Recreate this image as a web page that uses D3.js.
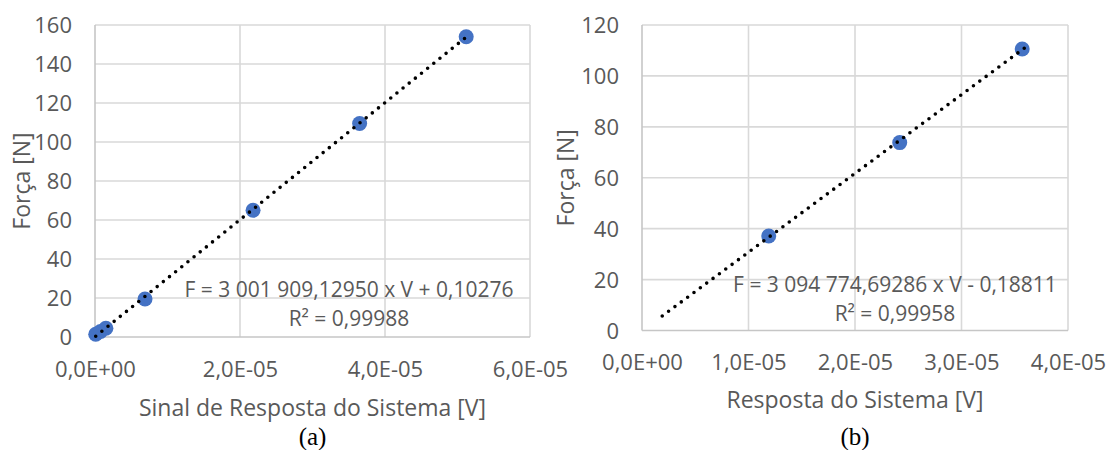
<!DOCTYPE html>
<html>
<head>
<meta charset="utf-8">
<script src="https://cdn.jsdelivr.net/npm/d3@7"></script>
<style>
  body { margin: 0; background: #fff; }
  svg text { font-family: "Open Sans", "Liberation Sans", sans-serif; fill: #595959; }
</style>
</head>
<body>
<script>
// chart (a): sinal de resposta vs força
var voltsA = [1.0e-7, 7.6e-7, 1.5e-6, 6.9e-6, 2.18e-5, 3.65e-5, 5.12e-5];
var forceA = [1.4, 2.8, 4.5, 19.5, 65, 109.5, 154];
var fitA = { slope: 3001909.12950, intercept: 0.10276, from: 1.0e-7, to: 5.12e-5 };
var eqA = ["F = 3 001 909,12950 x V + 0,10276", "R² = 0,99988"];
var xTicksA = [0, 2e-5, 4e-5, 6e-5];
var yTicksA = [0, 20, 40, 60, 80, 100, 120, 140, 160];

// chart (b): resposta do sistema vs força
var voltsB = [1.19e-5, 2.42e-5, 3.57e-5];
var forceB = [37.1, 73.8, 110.6];
var fitB = { slope: 3094774.69286, intercept: -0.18811, from: 1.9e-6, to: 3.64e-5 };
var eqB = ["F = 3 094 774,69286 x V - 0,18811", "R² = 0,99958"];
var xTicksB = [0, 1e-5, 2e-5, 3e-5, 4e-5];
var yTicksB = [0, 20, 40, 60, 80, 100, 120];

var width = 1108;
var height = 450;

var svg = d3.select("body").append("svg")
    .attr("width", width)
    .attr("height", height);

// 2e-5 -> "2,0E-05"
function sci(v) {
    if (v === 0) return "0,0E+00";
    var e = Math.floor(Math.log10(Math.abs(v)) + 1e-9);
    var m = v / Math.pow(10, e);
    return m.toFixed(1).replace(".", ",") + "E" + (e < 0 ? "-" : "+") + String(Math.abs(e)).padStart(2, "0");
}

function drawChart(c) {
    var x = d3.scaleLinear().domain(c.xDomain).range([c.left, c.right]);
    var y = d3.scaleLinear().domain(c.yDomain).range([c.bottom, c.top]);
    var g = svg.append("g");

    // gridlines
    g.selectAll(".hgrid").data(c.yTicks.slice(1))
        .enter().append("line")
        .attr("x1", c.left).attr("x2", c.right)
        .attr("y1", function (d) { return y(d); })
        .attr("y2", function (d) { return y(d); })
        .attr("stroke", "#d9d9d9").attr("stroke-width", 1.6);
    g.selectAll(".vgrid").data(c.xTicks.slice(1))
        .enter().append("line")
        .attr("y1", c.top).attr("y2", c.bottom)
        .attr("x1", function (d) { return x(d); })
        .attr("x2", function (d) { return x(d); })
        .attr("stroke", "#d9d9d9").attr("stroke-width", 1.6);

    // axis lines
    g.append("line").attr("x1", c.left).attr("x2", c.left).attr("y1", c.top).attr("y2", c.bottom)
        .attr("stroke", "#c6c6c6").attr("stroke-width", 1.6);
    g.append("line").attr("x1", c.left).attr("x2", c.right).attr("y1", c.bottom).attr("y2", c.bottom)
        .attr("stroke", "#c6c6c6").attr("stroke-width", 1.6);

    // tick labels via d3 axes
    var xAxis = g.append("g")
        .attr("transform", `translate(0 ${c.bottom})`)
        .call(d3.axisBottom(x).tickValues(c.xTicks).tickFormat(sci).tickSize(0));
    xAxis.select(".domain").remove();
    xAxis.selectAll("text")
        .attr("y", 32).attr("dy", "0.35em")
        .attr("font-size", 22).attr("font-family", null).style("fill", "#595959");

    var yAxis = g.append("g")
        .attr("transform", `translate(${c.left} 0)`)
        .call(d3.axisLeft(y).tickValues(c.yTicks).tickSize(0).tickPadding(23));
    yAxis.select(".domain").remove();
    yAxis.selectAll("text")
        .attr("dy", "0.35em")
        .attr("font-size", 22).attr("font-family", null).style("fill", "#595959");

    // points
    g.selectAll("circle").data(c.volts)
        .enter().append("circle")
        .attr("cx", function (d) { return x(d); })
        .attr("cy", function (d, i) { return y(c.force[i]); })
        .attr("r", 7.5)
        .attr("fill", "#4472c4");

    // linear trendline, round dots
    var fit = c.fit;
    g.append("line")
        .attr("x1", x(fit.from)).attr("y1", y(fit.slope * fit.from + fit.intercept))
        .attr("x2", x(fit.to)).attr("y2", y(fit.slope * fit.to + fit.intercept))
        .attr("stroke", "#000").attr("stroke-width", 3.6)
        .attr("stroke-linecap", "round")
        .attr("stroke-dasharray", "0 7.9");

    // equation label
    g.selectAll(".eq").data(c.eq)
        .enter().append("text")
        .attr("x", c.eqX)
        .attr("y", function (d, i) { return c.eqY + i * 28.5; })
        .attr("dy", "0.35em")
        .attr("text-anchor", "middle")
        .attr("font-size", 21)
        .text(function (d) { return d; });

    // axis titles
    g.append("text")
        .attr("x", (c.left + c.right) / 2).attr("y", c.xTitleY)
        .attr("dy", "0.35em").attr("text-anchor", "middle")
        .attr("font-size", 23)
        .text(c.xTitle);
    g.append("text")
        .attr("transform", `translate(${c.yTitleX} ${(c.top + c.bottom) / 2}) rotate(-90)`)
        .attr("dy", "0.35em").attr("text-anchor", "middle")
        .attr("font-size", 23)
        .text("Força [N]");

    // caption
    g.append("text")
        .attr("x", (c.left + c.right) / 2).attr("y", 436)
        .attr("dy", "0.35em").attr("text-anchor", "middle")
        .attr("font-size", 25)
        .style("font-family", "'Liberation Serif', 'Times New Roman', serif")
        .style("fill", "#000")
        .text(c.caption);
}

drawChart({
    volts: voltsA, force: forceA, fit: fitA, eq: eqA,
    xTicks: xTicksA, yTicks: yTicksA,
    xDomain: [0, 6e-5], yDomain: [0, 160],
    left: 95, right: 530, top: 25, bottom: 337,
    eqX: 349, eqY: 290, xTitleY: 408, yTitleX: 22,
    xTitle: "Sinal de Resposta do Sistema [V]", caption: "(a)"
});

drawChart({
    volts: voltsB, force: forceB, fit: fitB, eq: eqB,
    xTicks: xTicksB, yTicks: yTicksB,
    xDomain: [0, 4e-5], yDomain: [0, 120],
    left: 642, right: 1068, top: 25, bottom: 330.5,
    eqX: 895, eqY: 285, xTitleY: 400, yTitleX: 566,
    xTitle: "Resposta do Sistema [V]", caption: "(b)"
});
</script>
</body>
</html>
